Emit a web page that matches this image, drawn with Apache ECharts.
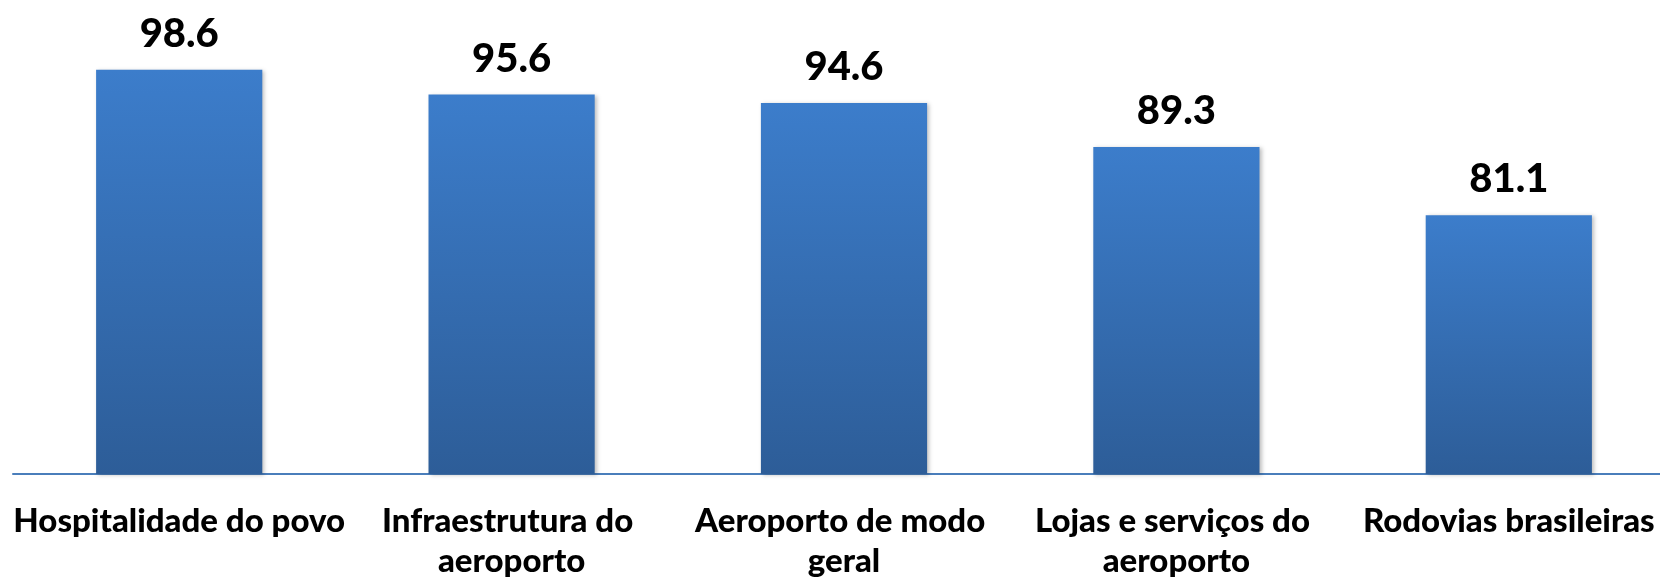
<!DOCTYPE html>
<html>
<head>
<meta charset="utf-8">
<script src="https://cdn.jsdelivr.net/npm/echarts@6/dist/echarts.min.js"></script>
<style>
  html, body { margin: 0; padding: 0; background: #fff; }
  #chart { width: 1660px; height: 579px; }
</style>
</head>
<body>
<div id="chart"></div>
<script>
// categorias e valores
var categories = [
  "Hospitalidade do povo",
  "Infraestrutura do aeroporto",
  "Aeroporto de modo geral",
  "Lojas e serviços do aeroporto",
  "Rodovias brasileiras"
];
var values = [98.6, 95.6, 94.6, 89.3, 81.1];

var chart = echarts.init(document.getElementById("chart"));
chart.setOption({
  animation: false,
  grid: {
    left: 13,
    width: 1662,  // o eixo passa da borda direita
    top: 58,
    bottom: 105,
    outerBoundsMode: "none",
    containLabel: false
  },
  xAxis: {
    type: "category",
    data: categories,
    axisLine: { show: true, lineStyle: { color: "#4A7EBB", width: 2 } },
    axisTick: { show: false },
    axisLabel: {
      interval: 0,
      margin: 27,
      width: 338,
      overflow: "break",
      color: "#000",
      fontFamily: "Lato",
      fontWeight: 900,
      fontSize: 33,
      lineHeight: 40,
      align: "center"
    }
  },
  yAxis: {
    type: "value",
    min: 50,
    max: 100,
    show: false,
    splitLine: { show: false }
  },
  series: [
    {
      type: "bar",
      data: values,
      barWidth: "50%",
      itemStyle: {
        color: new echarts.graphic.LinearGradient(0, 0, 0, 1, [
          { offset: 0, color: "#3C7DCB" },
          { offset: 1, color: "#2D5D98" }
        ]),
        shadowColor: "rgba(0,0,0,0.25)",
        shadowBlur: 4,
        shadowOffsetX: 2,
        shadowOffsetY: 1
      },
      label: {
        show: true,
        position: "top",
        distance: 16,
        color: "#000",
        fontFamily: "Lato",
        fontWeight: 900,
        fontSize: 40,
        formatter: function (p) { return p.value.toFixed(1); }
      }
    }
  ]
});
</script>
</body>
</html>
